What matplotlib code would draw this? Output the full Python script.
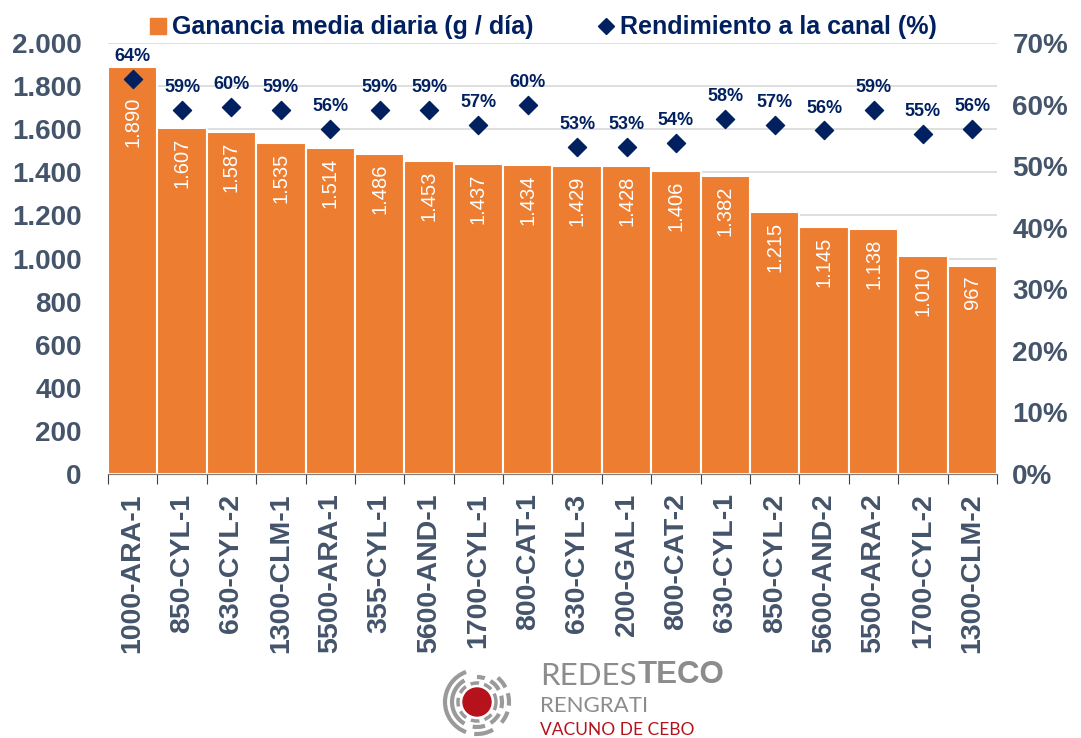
import numpy as np
import matplotlib
matplotlib.use('Agg')
import matplotlib.pyplot as plt
from matplotlib.patches import Circle, Arc
from matplotlib.lines import Line2D

plt.rcParams['font.family'] = ['Liberation Sans', 'DejaVu Sans']

# data
granjas = ['1000-ARA-1', '850-CYL-1', '630-CYL-2', '1300-CLM-1', '5500-ARA-1',
           '355-CYL-1', '5600-AND-1', '1700-CYL-1', '800-CAT-1', '630-CYL-3',
           '200-GAL-1', '800-CAT-2', '630-CYL-1', '850-CYL-2', '5600-AND-2',
           '5500-ARA-2', '1700-CYL-2', '1300-CLM-2']
gmd = [1890, 1607, 1587, 1535, 1514, 1486, 1453, 1437, 1434, 1429, 1428,
       1406, 1382, 1215, 1145, 1138, 1010, 967]
rendimiento = [64.1, 59.1, 59.6, 59.1, 56.1, 59.1, 59.1, 56.7, 60.0, 53.1,
               53.1, 53.8, 57.7, 56.7, 55.8, 59.1, 55.2, 56.1]

naranja = '#ED7D31'
azul = '#002060'
gris = '#44546A'

fig = plt.figure(figsize=(10.81, 7.38), dpi=100)
ax = fig.add_axes([0.0999, 0.3577, 0.8224, 0.584])
ax2 = ax.twinx()

x = np.arange(len(granjas))
ax.bar(x, gmd, width=1.0, color=naranja, edgecolor='white', linewidth=1.5, zorder=2)
for xi, v, r in zip(x, gmd, rendimiento):
    etiqueta = f'{v:,}'.replace(',', '.')
    tope = v - 45
    # si el rombo cae dentro de la barra, la etiqueta va debajo del rombo
    if r / 70 * 2000 < v:
        tope = r / 70 * 2000 - 80
    ax.text(xi, tope, etiqueta, rotation=90, ha='center', va='top',
            color='white', fontsize=14.5, zorder=3)

ax.set_xlim(-0.5, len(granjas) - 0.5)
ax.set_ylim(0, 2000)
ax.set_yticks(range(0, 2001, 200))
ax.set_yticklabels([f'{v:,}'.replace(',', '.') for v in range(0, 2001, 200)])
ax.yaxis.grid(True, color='#D9D9D9', linewidth=1.2, zorder=0)
ax.set_axisbelow(True)

ax2.scatter(x, rendimiento, marker='D', s=85, color=azul, zorder=4)
for xi, r in zip(x, rendimiento):
    ax2.annotate(f'{round(r):.0f}%', (xi, r), xytext=(0, 10), textcoords='offset points',
                 ha='center', va='bottom', color=azul, fontsize=13, fontweight='bold')
ax2.set_ylim(0, 70)
ax2.set_yticks(range(0, 71, 10))
ax2.set_yticklabels([f'{v}%' for v in range(0, 71, 10)])
ax2.set_zorder(ax.get_zorder() + 1)
ax2.patch.set_visible(False)

for a in (ax, ax2):
    for s in ['top', 'left', 'right']:
        a.spines[s].set_visible(False)
    a.spines['bottom'].set_color('#7F7F7F')

ax.tick_params(axis='y', length=0, pad=19, labelsize=20, labelcolor=gris)
ax2.tick_params(axis='y', length=0, pad=11, labelsize=20, labelcolor=gris)
for lab in ax.get_yticklabels() + ax2.get_yticklabels():
    lab.set_fontweight('bold')

# category ticks at bar boundaries, labels centred
ax.set_xticks(np.arange(-0.5, len(granjas), 1.0))
ax.set_xticklabels([])
ax.set_xticks(x, minor=True)
ax.set_xticklabels(granjas, minor=True, rotation=90, fontsize=20.5,
                   fontweight='bold', color=gris)
ax.tick_params(axis='x', which='major', length=7, color='#404040', direction='out')
ax.tick_params(axis='x', which='minor', length=0, pad=14)

# legend
h1 = Line2D([], [], marker='s', linestyle='none', color=naranja, markersize=11)
h2 = Line2D([], [], marker='D', linestyle='none', color=azul, markersize=8)
leg = fig.legend([h1, h2], ['Ganancia media diaria (g / día)', 'Rendimiento a la canal (%)'],
                 loc='center', bbox_to_anchor=(0.503, 0.963), ncol=2, frameon=False,
                 handlelength=0.6, handletextpad=0.25, columnspacing=2.6,
                 prop={'size': 18, 'weight': 'bold'})
for t in leg.get_texts():
    t.set_color(azul)

# logo (unidades en pixeles, centro del circulo en 477, 702)
lax = fig.add_axes([437 / 1081, -4 / 738, 80 / 1081, 80 / 738])
lax.set_xlim(-40, 40)
lax.set_ylim(-40, 40)
lax.set_aspect('equal')
lax.axis('off')
lax.add_patch(Circle((0, 0), 14, color='#B5121B'))
gris_logo = '#9A9A9A'
lax.add_patch(Arc((0, 0), 64, 64, theta1=110, theta2=250, color=gris_logo, linewidth=3))
lax.add_patch(Arc((0, 0), 64, 64, theta1=265, theta2=300, color=gris_logo, linewidth=3))
lax.add_patch(Arc((0, 0), 64, 64, theta1=-40, theta2=60, color=gris_logo, linewidth=3,
                  linestyle=(0, (3, 1.5))))
lax.add_patch(Arc((0, 0), 50, 50, theta1=120, theta2=240, color=gris_logo, linewidth=3))
lax.add_patch(Arc((0, 0), 50, 50, theta1=-100, theta2=90, color=gris_logo, linewidth=3,
                  linestyle=(0, (3, 1.5))))
lax.add_patch(Arc((0, 0), 38, 38, theta1=0, theta2=360, color=gris_logo, linewidth=2.5,
                  linestyle=(0, (2.5, 1.5))))

t_redes = fig.text(0.4995, 0.0845, 'REDES', fontsize=22.5, color='#8C8C8C', fontfamily='Lato',
                   va='center')
fig.add_artist(matplotlib.text.Annotation('TECO', xy=(1, 0), xycoords=t_redes,
                                          xytext=(1, 0), textcoords='offset points',
                                          va='bottom', ha='left', fontsize=22.5,
                                          color='#8C8C8C', fontweight='bold'))
fig.text(0.4995, 0.044, 'RENGRATI', fontsize=16, color='#8C8C8C', fontfamily='Lato',
         va='center')
fig.text(0.4995, 0.0, 'VACUNO DE CEBO', fontsize=12.5, color='#B5121B', fontfamily='Lato',
         va='bottom')

fig.savefig('out.png', dpi=100)
